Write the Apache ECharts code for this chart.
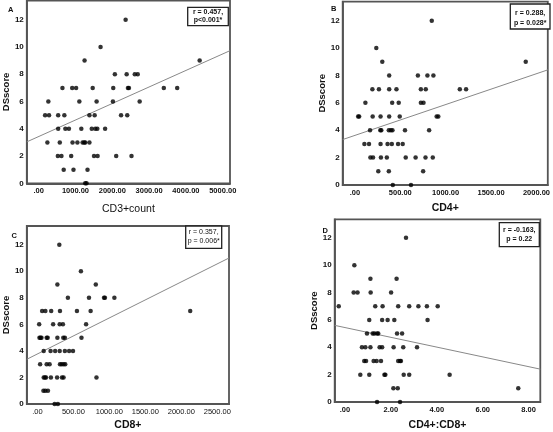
<!DOCTYPE html>
<html>
<head>
<meta charset="utf-8">
<script src="https://cdn.jsdelivr.net/npm/echarts@6/dist/echarts.min.js"></script>
<style>html,body{margin:0;padding:0;background:#fff;}#c{width:553px;height:432px;}</style>
</head>
<body>
<div id="c"></div>
<script>
// ---- Panel A: CD3+count vs DSscore ----
const cd3X = [2362, 1681, 1247, 4373, 2070, 2390, 2611, 2691,
  646, 911, 1017, 1468, 2026, 2425, 2452, 3399, 3763,
  263, 1105, 1574, 2017, 2743,
  175, 282, 530, 698, 1379, 1521, 2238, 2406,
  530, 725, 822, 1159, 1442, 1539, 1593, 1805,
  237, 574, 920, 1052, 1194, 1238, 1265, 1379,
  521, 619, 884, 1504, 1601, 2106, 2522,
  680, 946, 1327,
  1265, 1300];
const dsA = [12, 10, 9, 9, 8, 8, 8, 8,
  7, 7, 7, 7, 7, 7, 7, 7, 7,
  6, 6, 6, 6, 6,
  5, 5, 5, 5, 5, 5, 5, 5,
  4, 4, 4, 4, 4, 4, 4, 4,
  3, 3, 3, 3, 3, 3, 3, 3,
  2, 2, 2, 2, 2, 2, 2,
  1, 1, 1,
  0, 0];
const fitAX = [-322, 5197];
const fitAY = [3.04, 9.73];

// ---- Panel B: CD4+ vs DSscore ----
const cd4X = [847, 236, 302, 1882, 378, 694, 799, 865,
  193, 265, 378, 458, 727, 781, 1156, 1225,
  116, 411, 483, 727, 756,
  36, 47, 196, 283, 378, 494, 901, 919,
  167, 280, 291, 374, 396, 414, 552, 818,
  105, 156, 283, 360, 407, 476, 527,
  171, 200, 287, 352, 560, 669, 778, 858,
  258, 374, 752,
  418, 618];
const dsB = [12, 10, 9, 9, 8, 8, 8, 8,
  7, 7, 7, 7, 7, 7, 7, 7,
  6, 6, 6, 6, 6,
  5, 5, 5, 5, 5, 5, 5, 5,
  4, 4, 4, 4, 4, 4, 4, 4,
  3, 3, 3, 3, 3, 3, 3,
  2, 2, 2, 2, 2, 2, 2, 2,
  1, 1, 1,
  0, 0];
const fitBX = [-134, 2125];
const fitBY = [3.32, 8.41];

// ---- Panel C: CD8+ vs DSscore ----
const cd8X = [305, 605, 278, 812, 424, 717, 926, 939, 1070,
  66, 111, 192, 314, 550, 740, 2124,
  25, 219, 310, 355, 677,
  29, 43, 57, 129, 143, 278, 360, 382, 613,
  88, 183, 247, 310, 382, 441, 495,
  38, 129, 170, 314, 337, 364, 387,
  88, 106, 120, 188, 274, 342, 364, 821,
  84, 111, 147,
  240, 285];
const dsC = [12, 10, 9, 9, 8, 8, 8, 8, 8,
  7, 7, 7, 7, 7, 7, 7,
  6, 6, 6, 6, 6,
  5, 5, 5, 5, 5, 5, 5, 5, 5,
  4, 4, 4, 4, 4, 4, 4,
  3, 3, 3, 3, 3, 3, 3,
  2, 2, 2, 2, 2, 2, 2, 2,
  1, 1, 1,
  0, 0];
const fitCX = [-147, 2663];
const fitCY = [3.37, 11.0];

// ---- Panel D: CD4+:CD8+ vs DSscore ----
const ratioX = [2.66, 0.41, 1.11, 2.25, 0.38, 0.55, 1.12, 2.01,
  -0.27, 1.32, 1.64, 2.32, 2.80, 3.20, 3.57, 4.04,
  1.06, 1.62, 1.86, 2.15, 3.60,
  0.96, 1.21, 1.28, 1.40, 1.45, 2.27, 2.49,
  0.74, 0.89, 1.11, 1.51, 1.62, 2.12, 2.54, 3.14,
  0.84, 0.92, 1.25, 1.38, 1.57, 2.32, 2.40, 2.44,
  0.67, 1.06, 1.72, 1.76, 2.56, 2.80, 4.56,
  2.11, 2.30, 7.55,
  1.40, 2.40];
const dsD = [12, 10, 9, 9, 8, 8, 8, 8,
  7, 7, 7, 7, 7, 7, 7, 7,
  6, 6, 6, 6, 6,
  5, 5, 5, 5, 5, 5, 5,
  4, 4, 4, 4, 4, 4, 4, 4,
  3, 3, 3, 3, 3, 3, 3, 3,
  2, 2, 2, 2, 2, 2, 2,
  1, 1, 1,
  0, 0];
const fitDX = [-0.446, 8.51];
const fitDY = [5.6, 2.4];

// ---- Axis labels / text ----
const panelLetters = ['A', 'B', 'C', 'D'];
const xNames = ['CD3+count', 'CD4+', 'CD8+', 'CD4+:CD8+'];
const yName = 'DSscore';
const xSteps = [1000, 500, 500, 2];
const statTexts = [['r = 0.457,', 'p<0.001*'], ['r = 0.288,', 'p = 0.028*'], ['r = 0.357,', 'p = 0.006*'], ['r = -0.163,', 'p = 0.22']];

const FONT = "'Liberation Sans', Arial, sans-serif";
function zip(xs, ys) { return xs.map((x, i) => [x, ys[i]]); }

const grids = [
  { left: 22.7, top: 0.5, width: 207.3, height: 182.8 },
  { left: 342.7, top: 1.7, width: 207.3, height: 183.3 },
  { left: 22, top: 226, width: 207, height: 180.7 },
  { left: 334.7, top: 219.3, width: 205.6, height: 184.7 }
];
const xRanges = [fitAX, fitBX, fitCX, fitDX];
const yMaxes = [13.41, 13.39, 13.41, 13.35];
const xNameGaps = [20, 18, 16, 18];
const yNameGaps = [13, 13, 13.5, 15];
const xNameBold = ['normal', 'bold', 'bold', 'bold'];
const xLabelBold = ['bold', 'bold', 'normal', 'bold'];

const xAxes = grids.map((g, i) => ({
  type: 'value', gridIndex: i, min: xRanges[i][0], max: xRanges[i][1],
  name: xNames[i], nameLocation: 'middle', nameGap: xNameGaps[i],
  nameTextStyle: { fontFamily: FONT, fontSize: 10.5, fontWeight: xNameBold[i], color: '#111' },
  axisLine: { show: true, onZero: false, lineStyle: { color: '#555', width: 1.8 } },
  axisTick: { show: false }, splitLine: { show: false },
  axisLabel: {
    margin: 4, fontFamily: FONT, fontSize: 7.5, fontWeight: xLabelBold[i], color: '#111',
    showMinLabel: true, showMaxLabel: true,
    formatter: function (v) {
      const s = xSteps[i];
      if (Math.abs(v / s - Math.round(v / s)) > 1e-6) return '';
      return Math.abs(v) < 1e-9 ? '.00' : v.toFixed(2);
    }
  }
}));
const yAxes = grids.map((g, i) => ({
  type: 'value', gridIndex: i, min: 0, max: yMaxes[i], interval: 2,
  name: yName, nameLocation: 'middle', nameGap: yNameGaps[i],
  nameTextStyle: { fontFamily: FONT, fontSize: 9.5, fontWeight: 'bold', color: '#111' },
  axisLine: { show: true, onZero: false, lineStyle: { color: '#555', width: 1.8 } },
  axisTick: { show: false }, splitLine: { show: false },
  axisLabel: {
    margin: 3, fontFamily: FONT, fontSize: 8, fontWeight: 'bold', color: '#111',
    formatter: function (v) { return Math.abs(v - Math.round(v)) < 1e-6 ? String(Math.round(v)) : ''; }
  }
}));

const scatterData = [zip(cd3X, dsA), zip(cd4X, dsB), zip(cd8X, dsC), zip(ratioX, dsD)];
const fitData = [zip(fitAX, fitAY), zip(fitBX, fitBY), zip(fitCX, fitCY), zip(fitDX, fitDY)];
const series = [];
for (let i = 0; i < 4; i++) {
  series.push({
    type: 'line', xAxisIndex: i, yAxisIndex: i, data: fitData[i], symbol: 'none', silent: true,
    lineStyle: { color: '#888', width: 1 }, z: 2
  });
  series.push({
    type: 'scatter', xAxisIndex: i, yAxisIndex: i, data: scatterData[i], symbol: 'circle', symbolSize: 4.5,
    itemStyle: { color: '#000' }, z: 3
  });
}

// stat boxes and panel letters (layout only)
const boxes = [
  { x: 187.7, y: 7.3, w: 40.6, h: 18.4, top: 8.4, lh: 7.7, fw: 'bold' },
  { x: 510.3, y: 4, w: 39.7, h: 25, top: 8.6, lh: 9.4, fw: 'bold' },
  { x: 185.7, y: 226, w: 36, h: 22.3, top: 227.1, lh: 9.3, fw: 'normal' },
  { x: 499.3, y: 222.7, w: 40, h: 24, top: 225.8, lh: 9, fw: 'bold' }
];
const letterPos = [[8, 5.5], [331, 5], [11.5, 232], [322.5, 227]];
const graphic = [];
boxes.forEach((b, i) => {
  graphic.push({ type: 'rect', shape: { x: b.x, y: b.y, width: b.w, height: b.h }, style: { fill: '#fff', stroke: '#222', lineWidth: 1.3 }, z: 10 });
  graphic.push({ type: 'text', x: b.x + b.w / 2, y: b.top, z: 11,
    style: { text: statTexts[i].join('\n'), textAlign: 'center', textVerticalAlign: 'top', fontFamily: FONT, fontSize: 7, fontWeight: b.fw, lineHeight: b.lh, fill: '#111' } });
});
letterPos.forEach((p, i) => {
  graphic.push({ type: 'text', x: p[0], y: p[1], z: 11,
    style: { text: panelLetters[i], textAlign: 'left', textVerticalAlign: 'top', fontFamily: FONT, fontSize: 7.5, fontWeight: 'bold', fill: '#111' } });
});

const chart = echarts.init(document.getElementById('c'), null, { renderer: 'canvas' });
chart.setOption({
  backgroundColor: '#fff',
  animation: false,
  grid: grids.map(g => Object.assign({ show: true, borderColor: '#555', borderWidth: 1.8, backgroundColor: 'transparent', containLabel: false }, g)),
  xAxis: xAxes,
  yAxis: yAxes,
  series: series,
  graphic: graphic
});
</script>
</body>
</html>
